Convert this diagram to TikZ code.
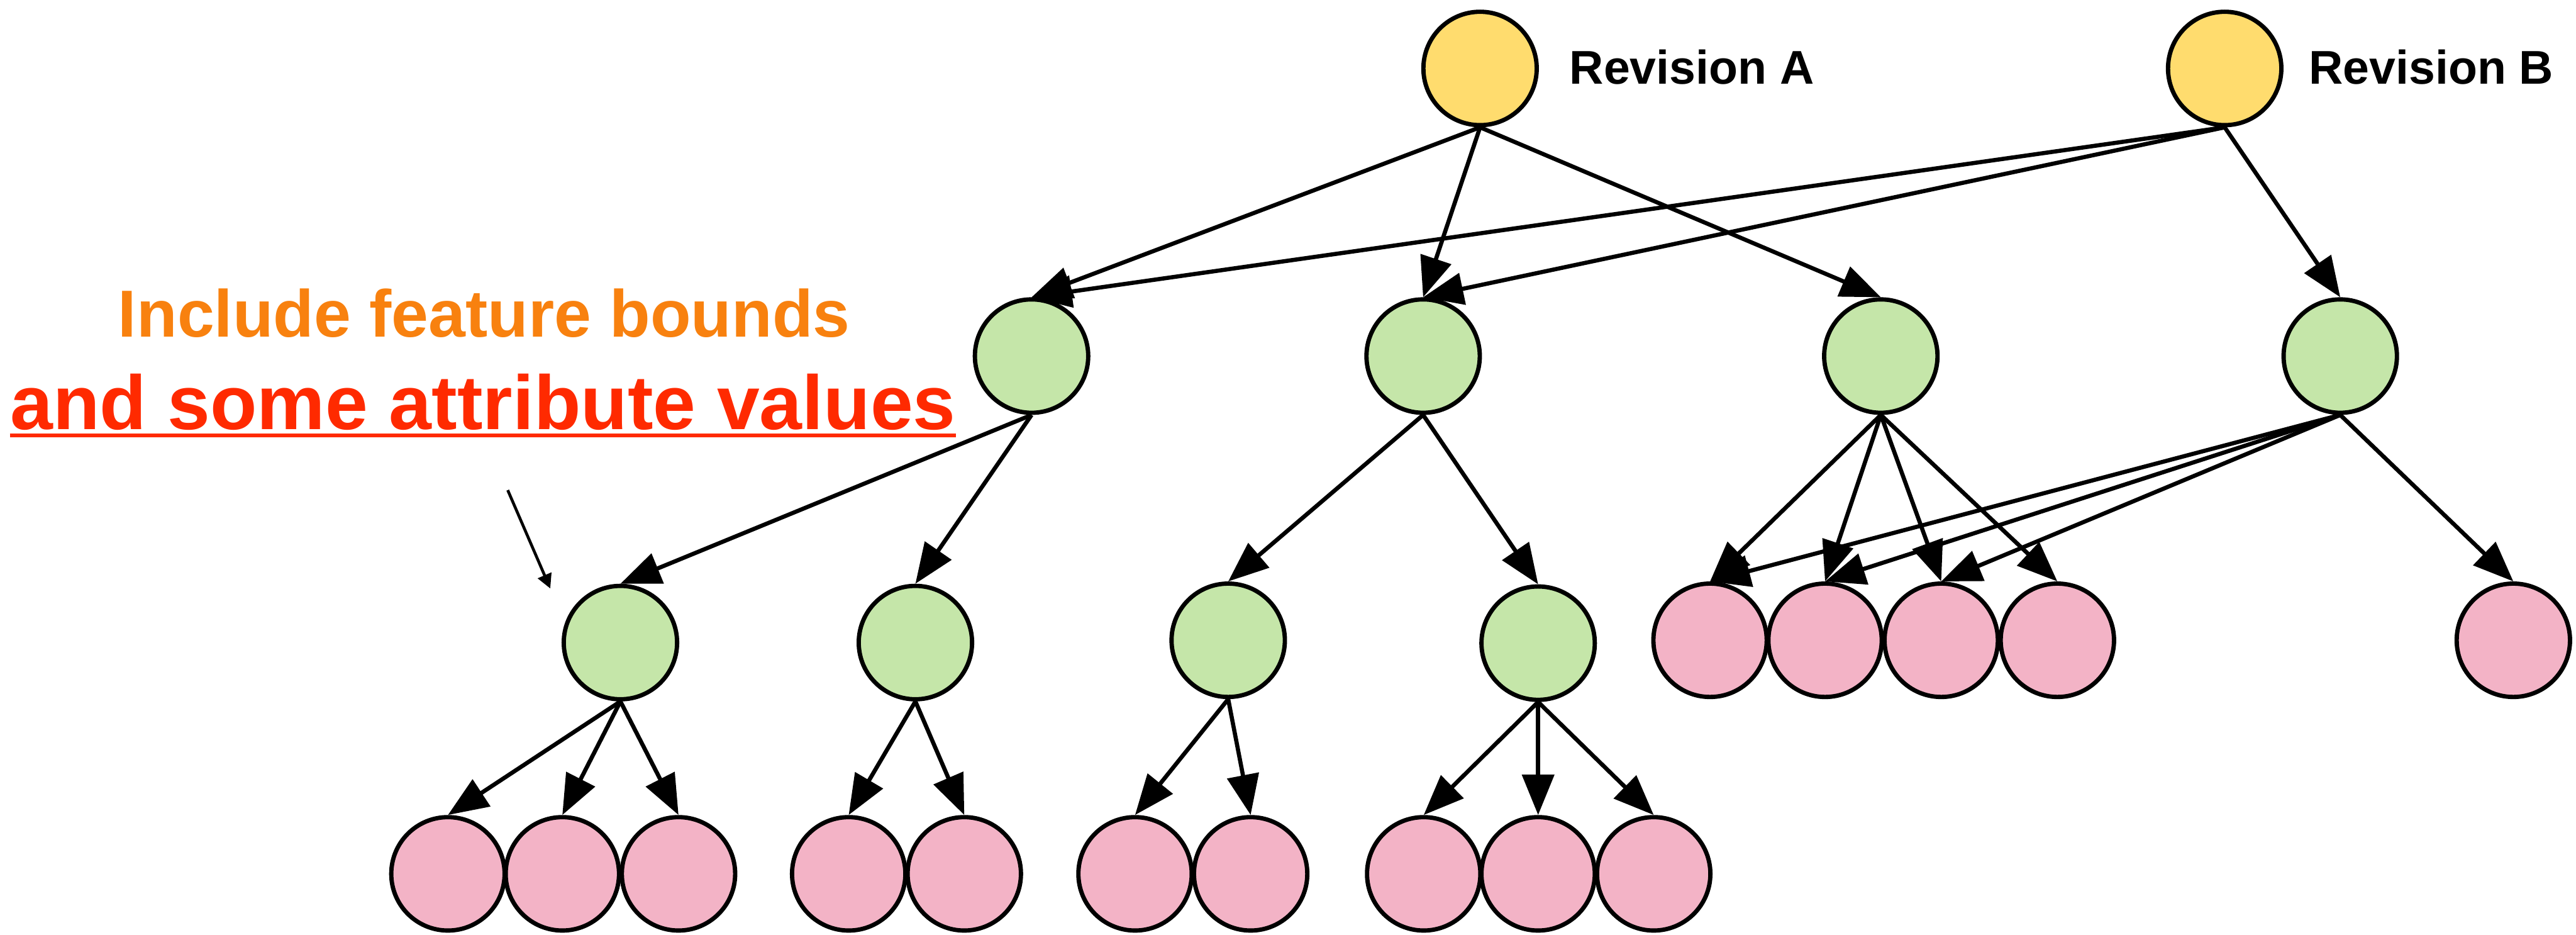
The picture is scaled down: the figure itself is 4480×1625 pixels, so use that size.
\documentclass[tikz,border=0pt]{standalone}
\usepackage{fontspec}
\setmainfont{Liberation Sans}
\usetikzlibrary{arrows.meta}
\definecolor{revfill}{HTML}{FFDC6E}
\definecolor{midfill}{HTML}{C5E6A9}
\definecolor{leaffill}{HTML}{F3B3C6}
\definecolor{noteorange}{HTML}{F8810F}
\definecolor{notered}{HTML}{FF2A00}
\tikzset{
  dot/.style={circle, draw=black, line width=0.075cm, inner sep=0pt, minimum size=1.97cm},
  rev/.style={dot, fill=revfill},
  mid/.style={dot, fill=midfill},
  leaf/.style={dot, fill=leaffill},
  link/.style={line width=0.072cm, -{Triangle[length=0.7cm,width=0.55cm]}},
  revlabel/.style={anchor=base west, inner sep=0pt, font=\fontsize{23.4pt}{28pt}\selectfont\bfseries},
}
\begin{document}
\begin{tikzpicture}[x=0.01cm, y=-0.01cm]
\useasboundingbox (0,0) rectangle (4480,1625);

% revisions
\node[rev] (ra) at (2574,119) {};
\node[rev] (rb) at (3869,119) {};
\node[revlabel] (la) at (2729,146) {Revision A};
\node[revlabel] (lb) at (4015,146) {Revision B};

% first level
\node[mid] (g1) at (1794,619) {};
\node[mid] (g2) at (2475,619) {};
\node[mid] (g3) at (3271,619) {};
\node[mid] (g4) at (4070,619) {};

% second level
\node[mid] (h1) at (1079,1117) {};
\node[mid] (h2) at (1592,1117) {};
\node[mid] (h3) at (2136,1113) {};
\node[mid] (h4) at (2675,1118) {};

% leaves under the right-hand branches
\node[leaf] (r1) at (2974,1113) {};
\node[leaf] (r2) at (3174,1113) {};
\node[leaf] (r3) at (3376,1113) {};
\node[leaf] (r4) at (3578,1113) {};
\node[leaf] (r5) at (4371,1113) {};

% bottom leaves
\node[leaf] (p1) at (779,1519) {};
\node[leaf] (p2) at (978,1519) {};
\node[leaf] (p3) at (1180,1519) {};
\node[leaf] (p4) at (1476,1519) {};
\node[leaf] (p5) at (1677,1519) {};
\node[leaf] (p6) at (1974,1519) {};
\node[leaf] (p7) at (2175,1519) {};
\node[leaf] (p8) at (2476,1519) {};
\node[leaf] (p9) at (2675,1519) {};
\node[leaf] (p10) at (2876,1519) {};

% connectors: bottom of parent to top of child
\foreach \a/\b in {ra/g1, ra/g2, ra/g3, rb/g1, rb/g2, rb/g4,
                   g1/h1, g1/h2, g2/h3, g2/h4,
                   g3/r1, g3/r2, g3/r3, g3/r4,
                   g4/r1, g4/r2, g4/r3, g4/r5,
                   h1/p1, h1/p2, h1/p3, h2/p4, h2/p5,
                   h3/p6, h3/p7, h4/p8, h4/p9, h4/p10}
  \draw[link] (\a.south) -- (\b.north);

% annotation
\node[anchor=base, inner sep=0pt, text=noteorange,
      font=\fontsize{32.9pt}{40pt}\selectfont\bfseries] (n1) at (842,586) {Include feature bounds};
\node[anchor=base, inner sep=0pt, text=notered,
      font=\fontsize{37.9pt}{45pt}\selectfont\bfseries] (n2) at (840,746) {and some attribute values};
\draw[notered, line width=0.065cm] ([yshift=-0.11cm]n2.base west) -- ([yshift=-0.11cm]n2.base east);

\coordinate (ps) at (883,852);
\coordinate (pe) at (957,1023);
\draw[line width=0.05cm, -{Triangle[length=0.25cm,width=0.25cm]}] (ps) -- (pe);
\end{tikzpicture}
\end{document}
